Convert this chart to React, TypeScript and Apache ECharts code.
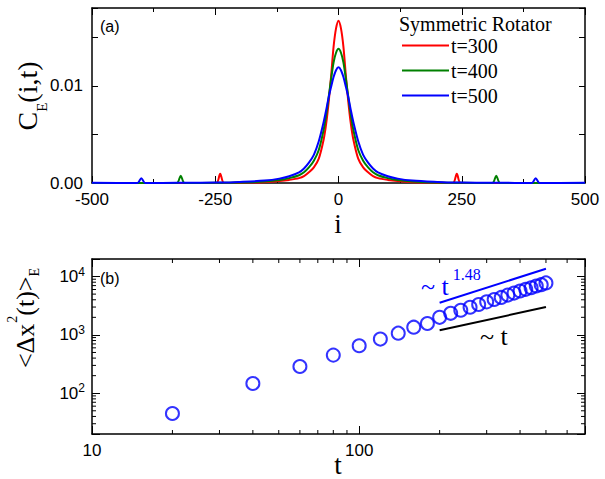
import React, { useEffect, useRef } from 'react';
import * as echarts from 'echarts';

// ---- panel (a) data ----
const positions = [-500, -408, -400, -392, -328, -320, -312, -248, -240, -232, -200, -150, -120, -100, -80, -70, -60, -50, -40, -30, -25, -20, -15, -10, -5, 0, 5, 10, 15, 20, 25, 30, 40, 50, 60, 70, 80, 100, 120, 150, 200, 232, 240, 248, 312, 320, 328, 392, 400, 408, 500];
const red300 = [0, 0, 0, 0, 0, 0, 0, 0, 0.00096, 0, 0.00003, 0.00008, 0.0002, 0.00032, 0.0005, 0.0007, 0.0011, 0.0016, 0.0025, 0.0045, 0.0061, 0.0083, 0.011, 0.014, 0.0159, 0.0167, 0.0159, 0.014, 0.011, 0.0083, 0.0061, 0.0045, 0.0025, 0.0016, 0.0011, 0.0007, 0.0005, 0.00032, 0.0002, 0.00008, 0.00003, 0, 0.00096, 0, 0, 0, 0, 0, 0, 0, 0];
const green400 = [0, 0, 0, 0, 0, 0.00075, 0, 0.00002, 0.00002, 0.00002, 0.00005, 0.00015, 0.0003, 0.0005, 0.0008, 0.0011, 0.0016, 0.0023, 0.0034, 0.0055, 0.007, 0.0088, 0.0107, 0.0124, 0.0134, 0.0138, 0.0134, 0.0124, 0.0107, 0.0088, 0.007, 0.0055, 0.0034, 0.0023, 0.0016, 0.0011, 0.0008, 0.0005, 0.0003, 0.00015, 0.00005, 0.00002, 0.00002, 0.00002, 0, 0.00075, 0, 0, 0, 0, 0];
const blue500 = [0.00002, 0, 0.0005, 0, 0.00002, 0.00002, 0.00002, 0.00004, 0.00004, 0.00004, 0.0001, 0.00025, 0.00045, 0.0007, 0.0011, 0.0015, 0.0021, 0.0029, 0.0043, 0.0063, 0.0075, 0.0088, 0.0099, 0.0109, 0.0116, 0.0119, 0.0116, 0.0109, 0.0099, 0.0088, 0.0075, 0.0063, 0.0043, 0.0029, 0.0021, 0.0015, 0.0011, 0.0007, 0.00045, 0.00025, 0.0001, 0.00004, 0.00004, 0.00004, 0.00002, 0.00002, 0.00002, 0, 0.0005, 0, 0.00002];
const seriesNames = ['t=300', 't=400', 't=500'];
const seriesColors = ['#ff0000', '#008000', '#0000ff'];

// ---- panel (b) data ----
const times = [20, 40, 60, 80, 100, 120, 140, 160, 180, 200, 220, 240, 260, 280, 300, 320, 340, 360, 380, 400, 420, 440, 460, 480, 500];
const msd = [45, 147, 287, 450, 651, 848, 1070, 1355, 1570, 2000, 2344, 2642, 2978, 3318, 3683, 4045, 4385, 4810, 5210, 5645, 6035, 6440, 6900, 7265, 7780];
const fitT = [200, 500];
const fitSuper = [3550, 13600];
const fitLinear = [1200, 3000];
const xMinorTicks = [20, 30, 40, 50, 60, 70, 80, 90, 200, 300, 400, 500, 600];
const yMinorTicks = [30, 40, 50, 60, 70, 80, 90, 200, 300, 400, 500, 600, 700, 800, 900, 2000, 3000, 4000, 5000, 6000, 7000, 8000, 9000];

const SANS = 'Liberation Sans';
const SERIF = 'Liberation Serif';
const AX = { onZero: false, lineStyle: { color: '#000', width: 1.5 } };

type Piece = { t: string; size: number; dy: number; gap?: number };

function makeMeasure() {
  const ctx = document.createElement('canvas').getContext('2d')!;
  return (t: string, size: number, fam: string) => {
    ctx.font = `${size}px "${fam}"`;
    return ctx.measureText(t).width;
  };
}

function pieceLabel(measure: any, x0: number, y0: number, pieces: Piece[], rotated: boolean, centered: boolean, fill: string) {
  const widths = pieces.map((p) => measure(p.t, p.size, SERIF) + (p.gap || 0));
  const total = widths.reduce((a, b) => a + b, 0);
  let x = centered ? -total / 2 : 0;
  const children = pieces.map((p, i) => {
    const el = {
      type: 'text', x: x + (p.gap || 0), y: p.dy,
      style: { text: p.t, fontFamily: SERIF, fontSize: p.size, fill, align: 'left', verticalAlign: 'middle' },
    };
    x += widths[i];
    return el;
  });
  return { type: 'group', x: x0, y: y0, rotation: rotated ? Math.PI / 2 : 0, children };
}

export default function App() {
  const ref = useRef<HTMLDivElement>(null);
  useEffect(() => {
    const chart = echarts.init(ref.current!, null, { renderer: 'svg' });
    const measure = makeMeasure();
    const isPow10 = (v: number) => Math.abs(Math.log10(v) - Math.round(Math.log10(v))) < 1e-6;
    const tickLine = (x1: number, y1: number, x2: number, y2: number) => ({ type: 'line', shape: { x1, y1, x2, y2 }, style: { stroke: '#000', lineWidth: 1 } });
    const option: any = {
      animation: false,
      backgroundColor: '#fff',
      grid: [
        { left: 92, right: 20, top: 8, height: 175, outerBoundsMode: 'none' },
        { left: 92, right: 20, top: 259, height: 175, outerBoundsMode: 'none' },
      ],
      xAxis: [
        {
          type: 'value', gridIndex: 0, min: -500, max: 500, interval: 250,
          axisLine: AX, splitLine: { show: false },
          axisTick: { inside: true, length: 7, lineStyle: { color: '#000' } },
          minorTick: { show: true, splitNumber: 2, length: 4, lineStyle: { color: '#000' } },
          axisLabel: { fontFamily: SANS, fontSize: 17, color: '#000', margin: 8 },
        },
        {
          type: 'value', gridIndex: 0, position: 'top', min: -500, max: 500, interval: 250,
          axisLine: AX, splitLine: { show: false },
          axisTick: { inside: true, length: 7, lineStyle: { color: '#000' } },
          minorTick: { show: true, splitNumber: 2, length: 4, lineStyle: { color: '#000' } },
          axisLabel: { show: false },
        },
        {
          type: 'log', logBase: 10, gridIndex: 1, min: 10, max: 700,
          axisLine: AX, splitLine: { show: false },
          axisTick: { inside: true, length: 8, lineStyle: { color: '#000' } },
          axisLabel: { fontFamily: SANS, fontSize: 17, color: '#000', margin: 8, formatter: (v: number) => (isPow10(v) ? String(Math.round(v)) : '') },
        },
        {
          type: 'log', logBase: 10, gridIndex: 1, position: 'top', min: 10, max: 700,
          axisLine: AX, splitLine: { show: false },
          axisTick: { inside: true, length: 8, lineStyle: { color: '#000' } },
          axisLabel: { show: false },
        },
      ],
      yAxis: [
        {
          type: 'value', gridIndex: 0, min: 0, max: 0.018, interval: 0.005,
          axisLine: AX, splitLine: { show: false },
          axisTick: { inside: true, length: 6, lineStyle: { color: '#000' } },
          axisLabel: {
            fontFamily: SANS, fontSize: 17, color: '#000', margin: 9,
            formatter: (v: number) => (Math.abs(v / 0.01 - Math.round(v / 0.01)) < 1e-6 ? v.toFixed(2) : ''),
          },
        },
        {
          type: 'value', gridIndex: 0, position: 'right', min: 0, max: 0.018, interval: 0.005,
          axisLine: AX, splitLine: { show: false },
          axisTick: { inside: true, length: 6, lineStyle: { color: '#000' } },
          axisLabel: { show: false },
        },
        {
          type: 'log', logBase: 10, gridIndex: 1, min: 20, max: 20000,
          axisLine: AX, splitLine: { show: false },
          axisTick: { inside: true, length: 8, lineStyle: { color: '#000' } },
          axisLabel: {
            fontFamily: SANS, fontSize: 17, color: '#000', margin: 7, lineHeight: 22,
            formatter: (v: number) => (isPow10(v) ? '10{s|' + Math.round(Math.log10(v)) + '}' : ''),
            rich: { s: { fontFamily: SANS, fontSize: 12, lineHeight: 12, verticalAlign: 'top', color: '#000' } },
          },
        },
        {
          type: 'log', logBase: 10, gridIndex: 1, position: 'right', min: 20, max: 20000,
          axisLine: AX, splitLine: { show: false },
          axisTick: { inside: true, length: 8, lineStyle: { color: '#000' } },
          axisLabel: { show: false },
        },
      ],
      legend: {
        data: seriesNames, orient: 'vertical', left: 397, top: 30,
        icon: 'rect', itemWidth: 47, itemHeight: 2, itemGap: 4,
        textStyle: { fontFamily: SERIF, fontSize: 20, color: '#000', lineHeight: 21, padding: [0, 0, 0, -3] },
      },
      series: [
        ...[red300, green400, blue500].map((vals, k) => ({
          type: 'line', name: seriesNames[k], xAxisIndex: 0, yAxisIndex: 0,
          data: positions.map((p, j) => [p, vals[j]]),
          showSymbol: false, symbol: 'none', smooth: 0.3,
          lineStyle: { width: 2, color: seriesColors[k] },
          itemStyle: { color: seriesColors[k] },
        })),
        {
          type: 'line', xAxisIndex: 2, yAxisIndex: 2, symbol: 'none',
          data: fitT.map((t, j) => [t, fitSuper[j]]),
          lineStyle: { width: 2, color: '#0000ff' },
        },
        {
          type: 'line', xAxisIndex: 2, yAxisIndex: 2, symbol: 'none',
          data: fitT.map((t, j) => [t, fitLinear[j]]),
          lineStyle: { width: 2, color: '#000' },
        },
        {
          type: 'scatter', xAxisIndex: 2, yAxisIndex: 2, symbol: 'circle', symbolSize: 13,
          data: times.map((t, j) => [t, msd[j]]),
          itemStyle: { color: 'rgba(0,0,0,0)', borderColor: '#0000ff', borderWidth: 2 },
        },
        {
          type: 'custom', xAxisIndex: 2, yAxisIndex: 2, silent: true, clip: false,
          data: xMinorTicks.map((v) => [v, 100]),
          renderItem: (params: any, api: any) => {
            const cs = params.coordSys;
            const x = api.coord([api.value(0), api.value(1)])[0];
            const yb = cs.y + cs.height;
            const yt = cs.y;
            return { type: 'group', children: [tickLine(x, yb, x, yb - 4), tickLine(x, yt, x, yt + 4)] };
          },
        },
        {
          type: 'custom', xAxisIndex: 2, yAxisIndex: 2, silent: true, clip: false,
          data: yMinorTicks.map((v) => [100, v]),
          renderItem: (params: any, api: any) => {
            const cs = params.coordSys;
            const y = api.coord([api.value(0), api.value(1)])[1];
            const xl = cs.x;
            const xr = cs.x + cs.width;
            return { type: 'group', children: [tickLine(xl, y, xl + 4, y), tickLine(xr, y, xr - 4, y)] };
          },
        },
      ],
      graphic: [
        { type: 'text', x: 100, y: 26, style: { text: '(a)', fontFamily: SANS, fontSize: 16, fill: '#000', align: 'left', verticalAlign: 'middle' } },
        { type: 'text', x: 100, y: 278, style: { text: '(b)', fontFamily: SANS, fontSize: 16, fill: '#000', align: 'left', verticalAlign: 'middle' } },
        { type: 'text', x: 399, y: 24, style: { text: 'Symmetric Rotator', fontFamily: SERIF, fontSize: 20, fill: '#000', align: 'left', verticalAlign: 'middle' } },
        pieceLabel(measure, 27, 96, [
          { t: 'C', size: 28, dy: 0 },
          { t: 'E', size: 15, dy: 15 },
          { t: '(i,t)', size: 28, dy: 0 },
        ], true, true, '#000'),
        pieceLabel(measure, 25, 318, [
          { t: '<Δx', size: 26, dy: 0 },
          { t: '2', size: 14, dy: -13, gap: 1 },
          { t: '(t)>', size: 26, dy: 0 },
          { t: 'E', size: 14, dy: 9 },
        ], true, true, '#000'),
        { type: 'text', x: 338, y: 224, style: { text: 'i', fontFamily: SERIF, fontSize: 27, fill: '#000', align: 'center', verticalAlign: 'middle' } },
        { type: 'text', x: 338, y: 465, style: { text: 't', fontFamily: SERIF, fontSize: 27, fill: '#000', align: 'center', verticalAlign: 'middle' } },
        pieceLabel(measure, 421, 286, [
          { t: '~ t', size: 26, dy: 0 },
          { t: '1.48', size: 16, dy: -12, gap: 4 },
        ], false, false, '#0000ff'),
        { type: 'text', x: 480, y: 336, style: { text: '~ t', fontFamily: SERIF, fontSize: 26, fill: '#000', align: 'left', verticalAlign: 'middle' } },
      ],
    };
    chart.setOption(option);
    return () => chart.dispose();
  }, []);
  return <div ref={ref} style={{ position: 'fixed', left: 0, top: 0, width: 605, height: 479 }} />;
}
